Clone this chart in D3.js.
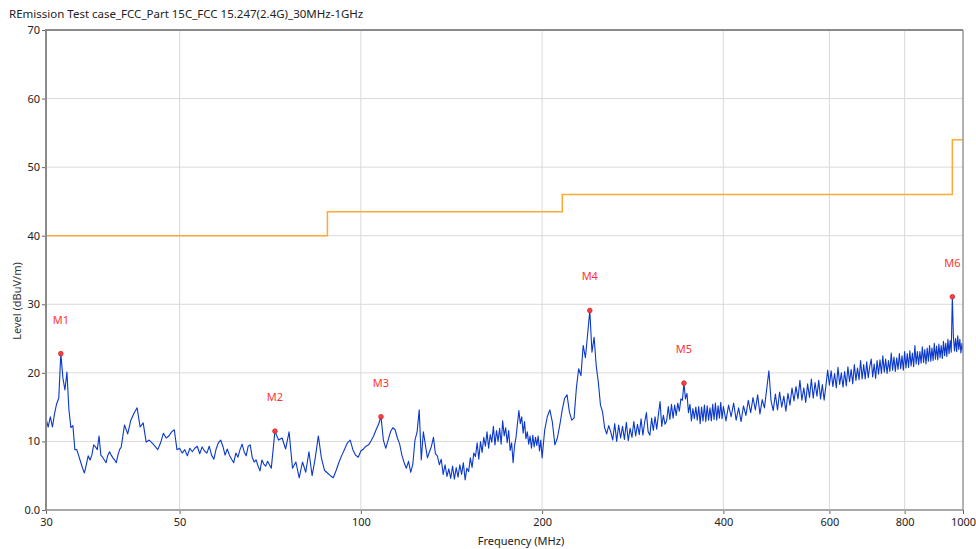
<!DOCTYPE html>
<html>
<head>
<meta charset="utf-8">
<script src="https://cdn.jsdelivr.net/npm/d3@7"></script>
<style>
  body { margin: 0; background: #fff; }
  svg text { font-family: "Segoe UI", "Noto Sans", sans-serif; }
</style>
</head>
<body>
<div id="chart"></div>
<script>
// sweep readings, dBuV/m, one array per sweep segment (start MHz, step MHz)
const levels30to40 = [
  13.4, 12.1, 13.6, 12.1, 14.1, 15.5, 16.3, 22.8, 19.3, 17.5,
  20.1, 14.6, 12.0, 12.3, 8.8, 8.8, 7.9, 7.0, 6.1, 5.4,
  6.6, 7.9, 7.3, 8.0, 9.5, 9.2, 8.8, 10.8, 8.0, 7.7,
  7.3, 6.9, 8.0, 8.5, 8.0, 7.6, 7.3, 6.9, 8.0, 8.8,
  9.2];
const levels40to50 = [
  12.4, 11.1, 13.1, 14.1, 14.9, 12.1, 12.7, 9.9, 10.2, 9.8,
  9.3, 8.8, 9.8, 11.2, 10.5, 10.8, 11.4, 11.7, 8.8, 9.0];
const levels50to70 = [
  8.3, 8.8, 7.9, 9.0, 8.5, 9.0, 9.3, 8.2, 9.2, 8.6,
  8.3, 9.3, 8.0, 7.4, 8.9, 9.8, 10.2, 9.3, 8.0, 8.9,
  8.0, 7.4, 6.9, 8.3, 7.7, 8.8, 9.6, 8.5, 7.9, 9.3,
  9.5, 7.7, 7.0, 7.3, 6.4, 5.7, 7.3, 6.7, 6.4, 7.1];
const levels70to100 = [
  6.1, 11.5, 10.2, 10.5, 8.9, 11.4, 6.1, 7.0, 4.7, 7.0,
  5.5, 8.5, 5.0, 7.6, 10.8, 7.6, 5.8, 5.4, 5.0, 4.7,
  5.8, 7.0, 8.0, 8.9, 9.8, 10.2, 8.8, 8.0, 7.7, 8.6];
const levels100to200 = [
  8.9, 9.3, 9.5, 10.1, 10.8, 11.7, 12.5, 13.6, 10.2, 9.0,
  10.2, 11.4, 12.0, 11.7, 10.5, 9.6, 8.0, 6.9, 6.1, 7.1,
  5.5, 6.7, 10.2, 11.4, 14.6, 7.3, 11.4, 9.5, 7.6, 8.5,
  9.3, 10.6, 8.2, 7.9, 6.6, 7.4, 5.2, 6.6, 4.9, 6.0,
  4.6, 6.4, 4.5, 6.2, 4.8, 6.6, 5.2, 6.9, 4.4, 6.1,
  5.6, 7.6, 6.2, 8.3, 7.8, 9.8, 7.4, 10.0, 8.4, 10.6,
  9.3, 11.4, 9.0, 11.0, 9.9, 12.2, 9.5, 11.6, 10.0, 11.9,
  9.6, 13.0, 10.8, 12.0, 9.8, 11.6, 8.7, 9.8, 6.9, 9.4,
  10.6, 12.6, 14.5, 12.6, 13.6, 11.2, 12.9, 10.4, 11.4, 9.6,
  10.8, 9.0, 10.9, 9.2, 10.6, 9.4, 10.8, 8.6, 10.2, 7.6];
const levels200to400 = [
  11.7, 13.6, 14.6, 12.8, 9.5, 10.5, 12.4, 14.6, 16.3, 16.8,
  14.3, 13.1, 13.4, 17.8, 20.6, 19.6, 24.0, 22.2, 25.6, 29.1,
  23.0, 25.2, 21.0, 18.6, 15.3, 14.3, 12.0, 11.1, 12.3, 11.4,
  10.2, 12.6, 10.0, 12.4, 10.5, 12.2, 10.3, 12.8, 10.1, 11.9,
  10.6, 12.9, 10.8, 12.5, 11.0, 13.3, 10.9, 12.8, 14.2, 11.4,
  10.9, 13.4, 11.6, 13.6, 11.8, 13.9, 15.8, 12.2, 13.8, 12.5,
  13.0, 15.1, 13.2, 15.4, 13.4, 15.3, 13.8, 15.6, 14.4, 16.2,
  16.0, 18.5, 16.2, 17.0, 14.2, 15.4, 13.0, 14.8, 13.3, 15.0,
  13.1, 15.1, 12.6, 15.0, 13.0, 15.3, 12.9, 15.2, 13.1, 14.9,
  13.0, 15.4, 13.2, 15.6, 13.1, 15.2, 13.4, 15.7, 13.3, 15.1];
const levels400to1000 = [
  13.0, 15.3, 13.6, 15.6, 13.1, 14.9, 12.9, 15.2, 13.8, 16.0,
  14.2, 16.4, 14.6, 16.8, 14.0, 16.1, 14.9, 17.6, 20.3, 15.9,
  14.5, 16.9, 14.6, 17.2, 15.0, 16.6, 14.4, 17.0, 15.3, 17.8,
  15.9, 18.0, 16.2, 18.9, 16.0, 17.8, 15.7, 18.4, 16.4, 19.1,
  16.3, 18.6, 16.6, 18.9, 16.2, 18.3, 16.0, 18.1, 20.4, 18.2,
  20.3, 18.0, 19.9, 17.8, 20.8, 18.3, 20.0, 17.9, 20.2, 18.1,
  20.9, 18.7, 20.5, 18.4, 21.2, 18.9, 20.7, 19.0, 21.8, 19.1,
  21.2, 19.1, 21.6, 19.3, 20.9, 22.0, 19.4, 21.3, 19.2, 21.8,
  19.8, 21.9, 19.9, 22.5, 20.1, 22.0, 19.9, 21.8, 20.2, 22.9,
  20.4, 22.3, 20.2, 22.2, 20.5, 22.8, 20.6, 22.5, 20.4, 23.1,
  20.7, 22.8, 20.8, 23.2, 21.0, 22.9, 20.9, 24.0, 21.3, 23.1,
  21.2, 23.1, 21.4, 23.8, 21.5, 23.4, 21.3, 23.6, 21.7, 24.0,
  21.7, 23.6, 21.8, 24.3, 22.0, 23.9, 21.9, 24.2, 22.2, 24.0,
  22.1, 24.6, 22.5, 24.3, 22.4, 24.9, 22.8, 24.7, 23.0, 31.1,
  25.2, 23.2, 25.0, 23.1, 25.4, 23.4, 24.9, 22.9, 24.3, 23.1];

const sweepSegments = [
  { start: 30, step: 0.25, levels: levels30to40 },
  { start: 40.5, step: 0.5, levels: levels40to50 },
  { start: 50.5, step: 0.5, levels: levels50to70 },
  { start: 71, step: 1, levels: levels70to100 },
  { start: 101, step: 1, levels: levels100to200 },
  { start: 202, step: 2, levels: levels200to400 },
  { start: 404, step: 4, levels: levels400to1000 }
];

// FCC limit, step after each frequency
const limitFreqs = [30, 88, 216, 960, 1000];
const limitLevels = [40, 43.5, 46, 54, 54];

const markerNames = ["M1", "M2", "M3", "M4", "M5", "M6"];
const markerFreqs = [31.75, 72, 108, 240, 344, 960];
const markerLevels = [22.8, 11.5, 13.6, 29.1, 18.5, 31.1];

const xTicks = [30, 50, 100, 200, 400, 600, 800, 1000];
const yTicks = [0, 10, 20, 30, 40, 50, 60, 70];
const yTickLabels = ["0.0", "10", "20", "30", "40", "50", "60", "70"];

const W = 976, H = 549;
const margin = { left: 46, right: 13, top: 30, bottom: 39 };

const svg = d3.select("#chart").append("svg")
  .attr("width", W).attr("height", H);

const x = d3.scaleLog().domain([30, 1000]).range([margin.left, W - margin.right]);
const y = d3.scaleLinear().domain([0, 70]).range([H - margin.bottom, margin.top]);

// title
svg.append("text")
  .attr("x", 9).attr("y", 18)
  .attr("font-size", 11.5).attr("fill", "#222")
  .text("REmission Test case_FCC_Part 15C_FCC 15.247(2.4G)_30MHz-1GHz");

// grid
const grid = svg.append("g").attr("class", "grid");
grid.selectAll("line.gx").data(xTicks.slice(1, -1)).enter().append("line")
  .attr("x1", d => x(d)).attr("x2", d => x(d))
  .attr("y1", y(70)).attr("y2", y(0))
  .attr("stroke", "#dadada").attr("stroke-width", 1);
grid.selectAll("line.gy").data(yTicks.slice(1, -1)).enter().append("line")
  .attr("x1", x(30)).attr("x2", x(1000))
  .attr("y1", d => y(d)).attr("y2", d => y(d))
  .attr("stroke", "#dadada").attr("stroke-width", 1);

// axes
const yAxis = svg.append("g")
  .attr("transform", `translate(${margin.left},0)`)
  .call(d3.axisLeft(y).tickValues(yTicks).tickSize(4).tickPadding(2)
    .tickFormat((d, i) => yTickLabels[i]));
const xAxis = svg.append("g")
  .attr("transform", `translate(0,${H - margin.bottom})`)
  .call(d3.axisBottom(x).tickValues(xTicks).tickSize(4).tickPadding(4)
    .tickFormat(d3.format("d")));
[yAxis, xAxis].forEach(g => {
  g.select(".domain").remove();
  g.selectAll(".tick line").attr("stroke", "#666");
  g.selectAll(".tick text").attr("font-size", 11).attr("fill", "#222")
    .attr("font-family", "'Segoe UI', 'Noto Sans', sans-serif");
});

// axis titles
svg.append("text")
  .attr("transform", "translate(21,301) rotate(-90)")
  .attr("text-anchor", "middle").attr("font-size", 11).attr("fill", "#333")
  .text("Level (dBuV/m)");
svg.append("text")
  .attr("x", 521).attr("y", 545)
  .attr("text-anchor", "middle").attr("font-size", 11).attr("fill", "#222")
  .text("Frequency (MHz)");

// clip for plot area
svg.append("clipPath").attr("id", "plotClip").append("rect")
  .attr("x", x(30)).attr("y", y(70))
  .attr("width", x(1000) - x(30)).attr("height", y(0) - y(70));

const plot = svg.append("g").attr("clip-path", "url(#plotClip)");

// limit line
const limitData = limitFreqs.map((f, i) => ({ f, v: limitLevels[i] }));
plot.append("path")
  .datum(limitData)
  .attr("fill", "none").attr("stroke", "#ffaa33").attr("stroke-width", 1.5)
  .attr("d", d3.line().x(d => x(d.f)).y(d => y(d.v)).curve(d3.curveStepAfter));

// measured trace
const trace = [];
sweepSegments.forEach(seg => {
  seg.levels.forEach((v, i) => trace.push({ f: seg.start + i * seg.step, v }));
});
plot.append("path")
  .datum(trace)
  .attr("fill", "none").attr("stroke", "#0a38cc").attr("stroke-width", 1.1)
  .attr("stroke-linejoin", "round")
  .attr("d", d3.line().x(d => x(d.f)).y(d => y(d.v)));

// markers
const markers = markerNames.map((n, i) => ({ n, f: markerFreqs[i], v: markerLevels[i] }));
svg.selectAll("circle.mk").data(markers).enter().append("circle")
  .attr("cx", d => x(d.f)).attr("cy", d => y(d.v)).attr("r", 2.3)
  .attr("fill", "#ff4040").attr("stroke", "#d02020").attr("stroke-width", 0.8);
svg.selectAll("text.mk").data(markers).enter().append("text")
  .attr("x", d => x(d.f)).attr("y", d => y(d.v) - 30)
  .attr("text-anchor", "middle").attr("font-size", 11).attr("fill", "#ff3333")
  .text(d => d.n);

// frame
const frame = svg.append("g").attr("fill", "none");
frame.append("line").attr("x1", x(30)).attr("x2", x(1000)).attr("y1", y(0)).attr("y2", y(0))
  .attr("stroke", "#a8a8a8").attr("stroke-width", 2);
frame.append("line").attr("x1", x(1000)).attr("x2", x(1000)).attr("y1", y(70)).attr("y2", y(0))
  .attr("stroke", "#999").attr("stroke-width", 1.5);
frame.append("line").attr("x1", x(30)).attr("x2", x(1000)).attr("y1", y(70)).attr("y2", y(70))
  .attr("stroke", "#8a8a8a").attr("stroke-width", 2);
frame.append("line").attr("x1", x(30)).attr("x2", x(30)).attr("y1", y(70) - 1).attr("y2", y(0) + 1)
  .attr("stroke", "#8a8a8a").attr("stroke-width", 2);
</script>
</body>
</html>
